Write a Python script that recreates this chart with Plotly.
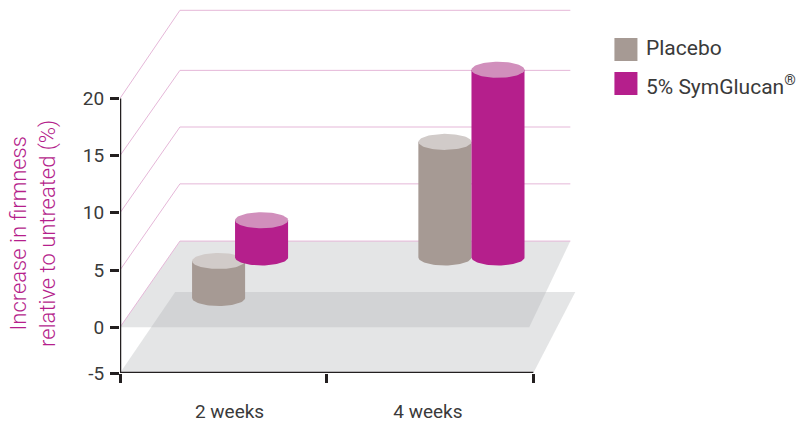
import numpy as np
import plotly.graph_objects as go

categories = ["2 weeks", "4 weeks"]
series_names = ["Placebo", "5% SymGlucan<sup>®</sup>"]
placebo_base = [2.56, 6.10]
placebo_height = [3.23, 10.10]
symglucan_base = [6.10, 6.10]
symglucan_height = [3.25, 16.40]
y_tick_values = [-4, 0, 5, 10, 15, 20]
y_tick_labels = ["-5", "0", "5", "10", "15", "20"]
grid_levels = [0, 5, 10, 15, 20]
grid_depth = [7.53, 7.53, 7.5, 7.45, 7.7]

PLACEBO, PLACEBO_TOP = "#a69a94", "#d1cbc9"
SYM, SYM_TOP = "#b51f8c", "#d18fbc"
PINK = "#e5b7d8"
DARK = "#231f20"
TEXT = "#3a3a3a"
FONT = "Roboto"

fig = go.Figure()


def plane(xs, ys):
    fig.add_trace(go.Scatter(x=xs, y=ys, mode="lines", line=dict(width=0), fill="toself",
                             fillcolor="rgba(174,176,180,0.33)", hoverinfo="skip", showlegend=False))


plane([0, 0.267, 2.203, 2.0, 0], [-4, 3.08, 3.08, -4, -4])
plane([0, 0.29, 2.179, 1.98, 0], [0, 7.53, 7.53, 0, 0])

for lvl, d in zip(grid_levels, grid_depth):
    fig.add_trace(go.Scatter(x=[0, 0.29, 2.179], y=[lvl, lvl + d, lvl + d], mode="lines",
                             line=dict(color=PINK, width=1), hoverinfo="skip", showlegend=False))


def cylinder(cx, base, height, side, top):
    rx, ry = 0.1283, 0.70
    t = np.linspace(0, np.pi, 40)
    y_top = base + height
    sx = np.concatenate([cx - rx * np.cos(t), [cx + rx, cx - rx]])
    sy = np.concatenate([base - ry * np.sin(t), [y_top, y_top]])
    fig.add_trace(go.Scatter(x=sx, y=sy, mode="lines", line=dict(width=0), fill="toself",
                             fillcolor=side, hoverinfo="skip", showlegend=False))
    t2 = np.linspace(0, 2 * np.pi, 80)
    fig.add_trace(go.Scatter(x=cx + rx * np.cos(t2), y=y_top + ry * np.sin(t2), mode="lines",
                             line=dict(width=0), fill="toself", fillcolor=top,
                             hoverinfo="skip", showlegend=False))


placebo_x = [0.477, 1.572]
sym_x = [0.685, 1.829]
for cx, b, h in zip(placebo_x, placebo_base, placebo_height):
    cylinder(cx, b, h, PLACEBO, PLACEBO_TOP)
for cx, b, h in zip(sym_x, symglucan_base, symglucan_height):
    cylinder(cx, b, h, SYM, SYM_TOP)

shapes = [
    dict(type="line", xref="x", yref="y", x0=0, x1=0, y0=-4, y1=20, line=dict(color=DARK, width=2.5)),
    dict(type="line", xref="x", yref="y", x0=0, x1=2, y0=-4, y1=-4, line=dict(color=DARK, width=2.5)),
    dict(type="rect", xref="paper", yref="paper", x0=(614 - 120) / 464.6, x1=(637 - 120) / 464.6,
         y0=(373 - 61) / 373, y1=(373 - 38) / 373, fillcolor=PLACEBO, line_width=0),
    dict(type="rect", xref="paper", yref="paper", x0=(614 - 120) / 464.6, x1=(637 - 120) / 464.6,
         y0=(373 - 95) / 373, y1=(373 - 72) / 373, fillcolor=SYM, line_width=0),
]

annotations = [
    dict(text=series_names[0], xref="paper", yref="paper", x=(643.5 - 120) / 464.6, y=(373 - 48) / 373,
         xanchor="left", yanchor="middle", showarrow=False, font=dict(family=FONT, size=21, color=TEXT)),
    dict(text=series_names[1], xref="paper", yref="paper", x=(643.5 - 120) / 464.6, y=(373 - 85) / 373,
         xanchor="left", yanchor="middle", showarrow=False, font=dict(family=FONT, size=21, color=TEXT)),
    dict(text="Increase in firmness<br>relative to untreated (%)", xref="paper", yref="paper",
         x=(33 - 120) / 464.6, y=(373 - 233) / 373, xanchor="center", yanchor="middle", textangle=-90,
         showarrow=False, font=dict(family=FONT, size=22, color=SYM, weight=300)),
]

fig.update_layout(
    width=800, height=425, margin=dict(l=120, r=215.4, t=0, b=52, pad=0),
    paper_bgcolor="white", plot_bgcolor="white", showlegend=False,
    shapes=shapes, annotations=annotations, font=dict(family=FONT, color=TEXT),
    xaxis=dict(range=[0, 2.25], showgrid=False, zeroline=False, showline=False,
               tickmode="array", tickvals=[0.53, 1.49], ticktext=categories, ticks="", ticklen=0,
               tickfont=dict(family=FONT, size=19, color=TEXT), ticklabelstandoff=25,
               minor=dict(tickmode="linear", tick0=0, dtick=1, ticks="outside", ticklen=9, tickwidth=2.5,
                          tickcolor=DARK, showgrid=False)),
    yaxis=dict(range=[-4, 28.6], showgrid=False, zeroline=False, showline=False,
               tickmode="array", tickvals=y_tick_values, ticktext=y_tick_labels, ticks="outside",
               ticklen=9, tickwidth=2.5, tickcolor=DARK, ticklabelstandoff=2,
               tickfont=dict(family=FONT, size=19, color=TEXT)),
)

fig.write_html("out.html", post_script="document.body.style.margin='0';",
               config={"displayModeBar": False})
